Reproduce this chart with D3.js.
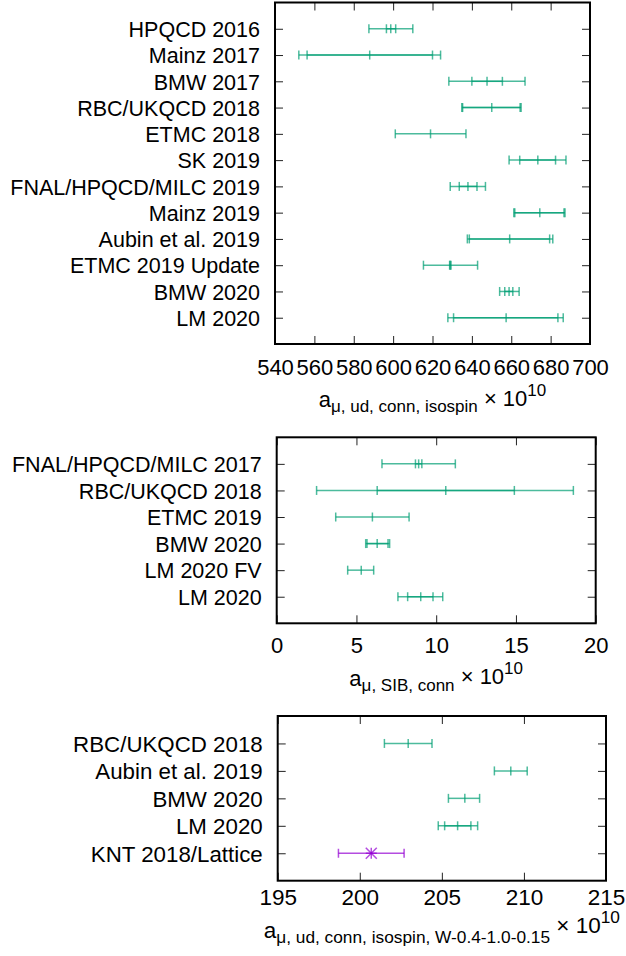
<!DOCTYPE html>
<html>
<head>
<meta charset="utf-8">
<script src="https://cdn.jsdelivr.net/npm/d3@7"></script>
<style>
  body { margin: 0; background: #fff; }
  svg { display: block; font-family: "Liberation Sans", Arial, Helvetica, sans-serif; }
</style>
</head>
<body>
<svg id="chart" width="626" height="956"></svg>
<script>

/*
 * The Data
 */

// panel 1: a_mu ud conn isospin
var udLabels = ["HPQCD 2016", "Mainz 2017", "BMW 2017", "RBC/UKQCD 2018", "ETMC 2018", "SK 2019",
  "FNAL/HPQCD/MILC 2019", "Mainz 2019", "Aubin et al. 2019", "ETMC 2019 Update", "BMW 2020", "LM 2020"];
var udCenters = [598.8, 588.1, 647.7, 650.1, 619.0, 673.5, 638.0, 674.5, 659.2, 629.0, 658.9, 657.4];
var udInner = [[596.6, 601.3], [556.3, 620.0], [640.0, 655.5], [635.3, 664.5], null, [664.3, 682.5],
  [633.6, 642.6], [661.8, 686.8], [638.7, 679.5], [628.7, 629.4], [656.7, 660.8], [630.7, 683.7]];
var udOuter = [[587.7, 610.0], [552.1, 624.1], [628.3, 667.0], [634.9, 665.0], [601.1, 637.0], [658.9, 687.8],
  [629.0, 646.9], [661.3, 687.3], [637.7, 681.1], [615.4, 642.9], [654.1, 664.0], [627.8, 686.4]];
var udTicks = [540, 560, 580, 600, 620, 640, 660, 680, 700];

// panel 2: a_mu SIB conn
var sibLabels = ["FNAL/HPQCD/MILC 2017", "RBC/UKQCD 2018", "ETMC 2019", "BMW 2020", "LM 2020 FV", "LM 2020"];
var sibCenters = [8.9, 10.6, 6.0, 6.3, 5.3, 9.03];
var sibInner = [[8.7, 9.1], [6.3, 14.9], null, [5.66, 6.98], null, [8.21, 9.8]];
var sibOuter = [[6.6, 11.2], [2.5, 18.6], [3.7, 8.3], [5.58, 7.08], [4.45, 6.08], [7.6, 10.41]];
var sibTicks = [0, 5, 10, 15, 20];

// panel 3: window quantity
var winLabels = ["RBC/UKQCD 2018", "Aubin et al. 2019", "BMW 2020", "LM 2020", "KNT 2018/Lattice"];
var winCenters = [202.95, 209.2, 206.4, 205.96, 200.7];
var winInner = [null, null, null, [205.17, 206.77], null];
var winOuter = [[201.5, 204.4], [208.2, 210.2], [205.4, 207.3], [204.78, 207.18], [198.7, 202.7]];
var winKind = ["lattice", "lattice", "lattice", "lattice", "pheno"];
var winTicks = [195, 200, 205, 210, 215];

/*
 * The Setup
 */
var svg = d3.select("#chart");
var colors = { lattice: "#009e73", pheno: "#9400d3" };
var capH = 4.5;

function drawPanel(cfg) {
  var g = svg.append("g");
  var n = cfg.labels.length;
  var x = d3.scaleLinear().domain(cfg.xDomain).range([cfg.left, cfg.right]);
  var y = d3.scaleLinear().domain([0, n + 1]).range([cfg.top, cfg.bottom]);
  var rows = d3.range(1, n + 1);

  // axes, ticks pointing inward
  var bottom = g.append("g")
    .attr("transform", "translate(0," + cfg.bottom + ")")
    .call(d3.axisBottom(x).tickValues(cfg.ticks).tickSize(-8).tickPadding(cfg.tickPad).tickFormat(d3.format("d")));
  var top = g.append("g")
    .attr("transform", "translate(0," + cfg.top + ")")
    .call(d3.axisTop(x).tickValues(cfg.ticks).tickSize(-8).tickFormat(""));
  var left = g.append("g")
    .attr("transform", "translate(" + cfg.left + ",0)")
    .call(d3.axisLeft(y).tickValues(rows).tickSize(-8).tickPadding(15)
      .tickFormat(function(d) { return cfg.labels[d - 1]; }));
  var right = g.append("g")
    .attr("transform", "translate(" + cfg.right + ",0)")
    .call(d3.axisRight(y).tickValues(rows).tickSize(-8).tickFormat(""));

  [bottom, top, left, right].forEach(function(a) {
    a.select(".domain").remove();
    a.attr("font-family", null).attr("font-size", null);
    a.selectAll(".tick line").attr("stroke", "#222").attr("stroke-width", 1);
    a.selectAll(".tick text").attr("fill", "#000");
  });
  bottom.selectAll(".tick text").attr("font-size", cfg.tickFont);
  left.selectAll(".tick text").attr("font-size", cfg.labelFont).attr("dy", "0.36em");

  // frame
  g.append("rect")
    .attr("x", cfg.left).attr("y", cfg.top)
    .attr("width", cfg.right - cfg.left).attr("height", cfg.bottom - cfg.top)
    .attr("fill", "none").attr("stroke", "#000").attr("stroke-width", 2);

  // error bars
  rows.forEach(function(r) {
    var i = r - 1;
    var col = colors[cfg.kind ? cfg.kind[i] : "lattice"];
    var yy = y(r);
    var bars = [cfg.inner[i], cfg.outer[i]].filter(Boolean);
    var eb = g.append("g").attr("stroke", col).attr("stroke-opacity", 0.7).attr("stroke-width", 1.5);
    bars.forEach(function(b) {
      eb.append("line").attr("x1", x(b[0])).attr("x2", x(b[1])).attr("y1", yy).attr("y2", yy);
      b.forEach(function(v) {
        eb.append("line").attr("x1", x(v)).attr("x2", x(v)).attr("y1", yy - capH).attr("y2", yy + capH);
      });
    });
    var cx = x(cfg.centers[i]);
    if (cfg.kind && cfg.kind[i] === "pheno") {
      // gnuplot "*" point
      var s = 5.5;
      [[-s, 0, s, 0], [0, -s, 0, s], [-s, -s, s, s], [-s, s, s, -s]].forEach(function(p) {
        eb.append("line").attr("x1", cx + p[0]).attr("y1", yy + p[1]).attr("x2", cx + p[2]).attr("y2", yy + p[3]);
      });
    } else {
      eb.append("line").attr("x1", cx).attr("x2", cx).attr("y1", yy - capH).attr("y2", yy + capH);
    }
  });

  // x axis title with sub/superscripts
  var t = g.append("text")
    .attr("x", (cfg.left + cfg.right) / 2)
    .attr("y", cfg.titleY)
    .attr("text-anchor", "middle")
    .attr("font-size", cfg.tickFont);
  t.append("tspan").text("a");
  t.append("tspan").attr("font-size", cfg.subFont).attr("dy", 5).text(cfg.sub);
  t.append("tspan").attr("dy", -5 - cfg.raise).text(" \u00d7 10");
  t.append("tspan").attr("font-size", cfg.subFont).attr("dy", -10).text("10");
}

drawPanel({
  labels: udLabels, centers: udCenters, inner: udInner, outer: udOuter, ticks: udTicks,
  xDomain: [540, 700], left: 275, right: 590, top: 2.5, bottom: 344,
  tickPad: 15, tickFont: 22, labelFont: 21.5, subFont: 17,
  titleY: 407, raise: 1, sub: "\u03bc, ud, conn, isospin"
});

drawPanel({
  labels: sibLabels, centers: sibCenters, inner: sibInner, outer: sibOuter, ticks: sibTicks,
  xDomain: [0, 20], left: 276.7, right: 595.7, top: 437.3, bottom: 623.3,
  tickPad: 14.4, tickFont: 22, labelFont: 21.5, subFont: 17,
  titleY: 686, raise: 2, sub: "\u03bc, SIB, conn"
});

drawPanel({
  labels: winLabels, centers: winCenters, inner: winInner, outer: winOuter, ticks: winTicks, kind: winKind,
  xDomain: [195, 215], left: 277.7, right: 606, top: 716, bottom: 880.7,
  tickPad: 8, tickFont: 22.5, labelFont: 22.3, subFont: 17.3,
  titleY: 938, raise: 5, sub: "\u03bc, ud, conn, isospin, W-0.4-1.0-0.15"
});

</script>
</body>
</html>
